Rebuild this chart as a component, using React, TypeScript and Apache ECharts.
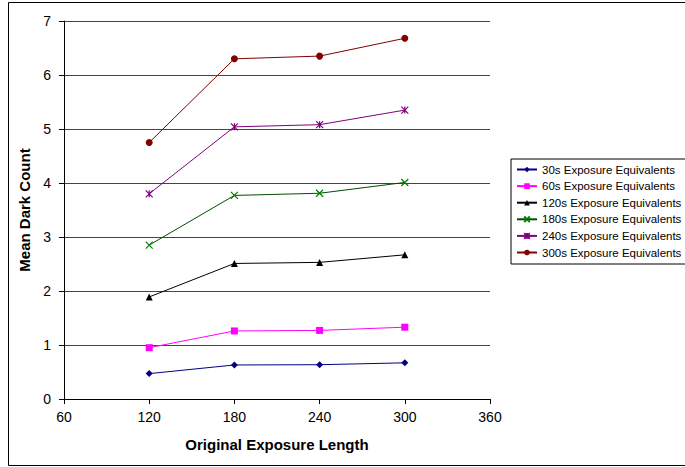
import React, { useEffect, useRef } from "react";
import * as echarts from "echarts";

const xValues = [120, 180, 240, 300];
const seriesNames = [
  "30s Exposure Equivalents",
  "60s Exposure Equivalents",
  "120s Exposure Equivalents",
  "180s Exposure Equivalents",
  "240s Exposure Equivalents",
  "300s Exposure Equivalents",
];
const s30 = [0.47, 0.63, 0.635, 0.67];
const s60 = [0.95, 1.26, 1.27, 1.33];
const s120 = [1.89, 2.51, 2.53, 2.67];
const s180 = [2.85, 3.77, 3.81, 4.01];
const s240 = [3.8, 5.04, 5.08, 5.35];
const s300 = [4.75, 6.3, 6.35, 6.68];

const seriesValues = [s30, s60, s120, s180, s240, s300];
const lineColors = ["#000080", "#FF00FF", "#000000", "#004d00", "#800080", "#800000"];
const markColors = ["#000080", "#FF00FF", "#000000", "#008000", "#800080", "#800000"];
const symbols = [
  "diamond",
  "rect",
  "triangle",
  "path://M0,0 L10,10 M10,0 L0,10",
  "path://M0,0 L10,10 M10,0 L0,10 M5,0 L5,10",
  "circle",
];
const symbolSizes = [7, 7, 7, 7, 7, 7];

const FONT = "Liberation Sans, Arial, sans-serif";

export default function App() {
  const ref = useRef<HTMLDivElement>(null);
  useEffect(() => {
    if (!ref.current) return;
    const chart = echarts.init(ref.current, null, { renderer: "svg" });
    const series = seriesNames.map((name, i) => {
      const isOpen = i === 3 || i === 4;
      return {
        name,
        type: "line",
        data: xValues.map((x, j) => [x, seriesValues[i][j]]),
        symbol: symbols[i],
        symbolSize: symbolSizes[i],
        showSymbol: true,
        lineStyle: { color: lineColors[i], width: 1 },
        itemStyle: isOpen
          ? { color: "none", borderColor: markColors[i], borderWidth: 1.2 }
          : { color: markColors[i], borderColor: markColors[i], borderWidth: 0 },
        emphasis: { disabled: true },
      };
    });
    chart.setOption({
      animation: false,
      textStyle: { fontFamily: FONT },
      grid: { left: 64, top: 21, right: 195, bottom: 68, containLabel: false },
      xAxis: {
        type: "value",
        min: 60,
        max: 360,
        interval: 60,
        name: "Original Exposure Length",
        nameLocation: "middle",
        nameGap: 38,
        nameTextStyle: { fontFamily: FONT, fontSize: 15, fontWeight: "bold", color: "#000" },
        axisLine: { show: true, onZero: false, lineStyle: { color: "#000", width: 1 } },
        axisTick: { show: true, length: 5, lineStyle: { color: "#000" } },
        axisLabel: { fontFamily: FONT, fontSize: 14, color: "#000", margin: 11 },
        splitLine: { show: false },
      },
      yAxis: {
        type: "value",
        min: 0,
        max: 7,
        interval: 1,
        name: "Mean Dark Count",
        nameLocation: "middle",
        nameGap: 23,
        nameTextStyle: { fontFamily: FONT, fontSize: 15, fontWeight: "bold", color: "#000" },
        axisLine: { show: true, lineStyle: { color: "#000", width: 1 } },
        axisTick: { show: true, length: 5, lineStyle: { color: "#000" } },
        axisLabel: { fontFamily: FONT, fontSize: 14, color: "#000", margin: 13 },
        splitLine: { show: true, lineStyle: { color: "#444", width: 1 } },
      },
      legend: {
        orient: "vertical",
        left: 511,
        top: 159,
        data: seriesNames,
        itemWidth: 20,
        itemHeight: 7,
        itemGap: 3.6,
        padding: [4, 14, 5, 5],
        borderColor: "#000",
        borderWidth: 1,
        textStyle: { fontFamily: FONT, fontSize: 11.5, color: "#000", lineHeight: 13 },
      },
      graphic: [
        {
          type: "rect",
          shape: { x: 8.5, y: 2.5, width: 700, height: 463 },
          style: { fill: "none", stroke: "#000", lineWidth: 1 },
          silent: true,
        },
      ],
      series,
    });
    return () => chart.dispose();
  }, []);
  return (
    <div
      ref={ref}
      style={{ position: "absolute", left: 0, top: 0, width: 685, height: 467, background: "#fff" }}
    />
  );
}
